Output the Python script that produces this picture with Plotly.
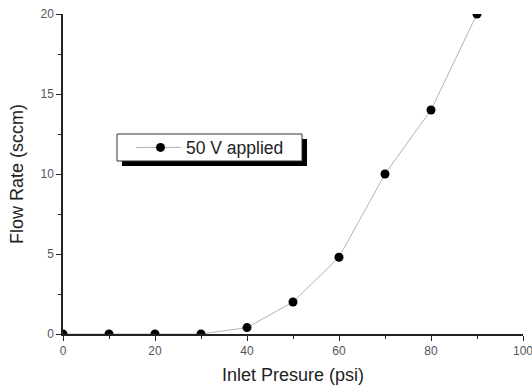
import plotly.graph_objects as go

pressure = [0, 10, 20, 30, 40, 50, 60, 70, 80, 90]
flow_rate = [0, 0, 0, 0, 0.4, 2, 4.8, 10, 14, 20]
series_name = "50 V applied"
x_title = "Inlet Presure (psi)"
y_title = "Flow Rate (sccm)"

FONT = "Liberation Sans, Arial, sans-serif"

fig = go.Figure()
fig.add_trace(go.Scatter(
    x=pressure, y=flow_rate, mode="lines+markers", name=series_name,
    line=dict(color="#b4b4b4", width=1),
    marker=dict(color="black", size=9, symbol="circle"),
    cliponaxis=True,
))

W, H = 532, 388
L, R, T, B = 63, 9, 14, 54
pw, ph = W - L - R, H - T - B

def px(xp):
    return (xp - L) / pw

def py(yp):
    return (H - B - yp) / ph

# legend shadow and frame
fig.add_shape(type="rect", xref="paper", yref="paper",
              x0=px(122), x1=px(307), y0=py(166), y1=py(139),
              fillcolor="black", line=dict(width=0), layer="above")
fig.add_shape(type="rect", xref="paper", yref="paper",
              x0=px(117), x1=px(302), y0=py(161), y1=py(134),
              fillcolor="white", line=dict(width=1, color="#333"), layer="above")
# legend sample line
fig.add_shape(type="line", xref="paper", yref="paper",
              x0=px(136), x1=px(180), y0=py(147.5), y1=py(147.5),
              line=dict(width=1, color="#b4b4b4"), layer="above")

axis_common = dict(
    showgrid=False, zeroline=False, showline=True, linecolor="#222", linewidth=1.5,
    ticks="outside", ticklen=5, tickwidth=1, tickcolor="#222",
    tickfont=dict(family=FONT, size=12, color="#555"),
    mirror=False, automargin=False, ticklabeloverflow="allow",
)
fig.update_xaxes(range=[0, 100], dtick=20,
                 title=dict(text=x_title, font=dict(family=FONT, size=18, color="#222"), standoff=11),
                 minor=dict(dtick=10, ticks="outside", ticklen=3, tickcolor="#222"), **axis_common)
fig.update_yaxes(range=[0, 20], dtick=5,
                 title=dict(text=y_title, font=dict(family=FONT, size=18, color="#222"), standoff=12),
                 minor=dict(dtick=2.5, ticks="outside", ticklen=3, tickcolor="#222"), **axis_common)

fig.update_layout(
    width=W, height=H, margin=dict(l=L, r=R, t=T, b=B, pad=0),
    paper_bgcolor="white", plot_bgcolor="white",
    showlegend=True,
    legend=dict(x=px(135), y=py(129.5), xanchor="left", yanchor="top",
                bgcolor="rgba(0,0,0,0)", borderwidth=0,
                font=dict(family=FONT, size=17.5, color="#222"),
                itemwidth=41),
)

fig.write_html("out.html", config={"displayModeBar": False},
               post_script="document.body.style.margin='0px';")
